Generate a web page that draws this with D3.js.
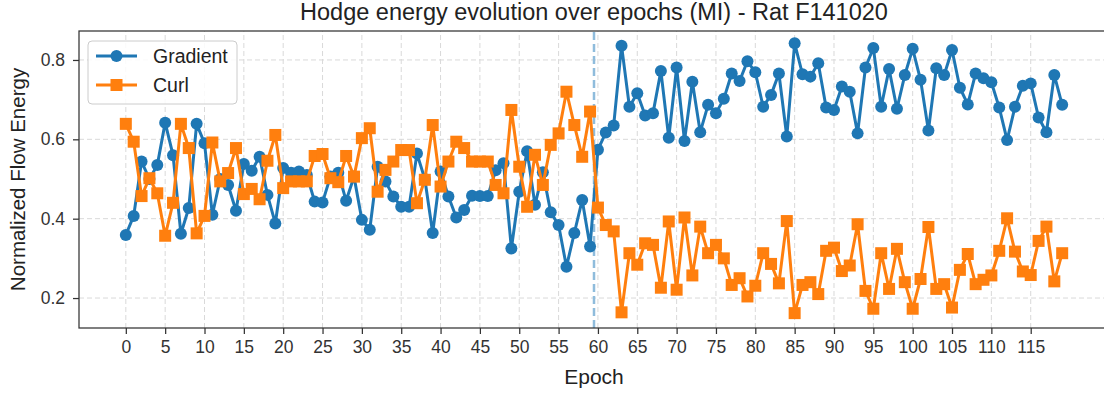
<!DOCTYPE html>
<html>
<head>
<meta charset="utf-8">
<script src="https://cdn.jsdelivr.net/npm/d3@7"></script>
<style>
  body { margin: 0; background: #fff; }
  text { font-family: "Liberation Sans", Arial, sans-serif; }
</style>
</head>
<body>
<main></main>
<script>
const w = 1104;
const h = 394;
const margin = { left: 79, right: -5, top: 31, bottom: 66 };

const epochs = d3.range(0, 120);

const gradient = [
  0.359, 0.407, 0.544, 0.50, 0.535, 0.642, 0.56, 0.362, 0.427, 0.639,
  0.59, 0.41, 0.50, 0.485, 0.42, 0.538, 0.521, 0.556, 0.46, 0.388,
  0.528, 0.516, 0.519, 0.51, 0.443, 0.441, 0.506, 0.516, 0.445, 0.506,
  0.397, 0.372, 0.531, 0.494, 0.456, 0.43, 0.43, 0.564, 0.50, 0.364,
  0.519, 0.456, 0.403, 0.422, 0.458, 0.457, 0.457, 0.522, 0.54, 0.325,
  0.468, 0.57, 0.435, 0.517, 0.416, 0.384, 0.279, 0.364, 0.447, 0.33,
  0.574, 0.617, 0.635, 0.836, 0.682, 0.716, 0.66, 0.666, 0.772, 0.604,
  0.781, 0.596, 0.745, 0.618, 0.687, 0.666, 0.702, 0.766, 0.747, 0.797,
  0.769, 0.682, 0.712, 0.766, 0.607, 0.842, 0.764, 0.758, 0.792, 0.68,
  0.674, 0.733, 0.72, 0.615, 0.781, 0.83, 0.682, 0.777, 0.677, 0.762,
  0.828, 0.75, 0.622, 0.779, 0.762, 0.825, 0.73, 0.688, 0.766, 0.754,
  0.744, 0.68, 0.598, 0.682, 0.735, 0.741, 0.655, 0.618, 0.762, 0.687
];

const curl = [
  0.639, 0.594, 0.457, 0.502, 0.464, 0.357, 0.44, 0.639, 0.578, 0.363,
  0.407, 0.592, 0.494, 0.515, 0.578, 0.462, 0.475, 0.449, 0.546, 0.611,
  0.477, 0.494, 0.494, 0.494, 0.558, 0.563, 0.502, 0.492, 0.558, 0.506,
  0.603, 0.628, 0.468, 0.523, 0.544, 0.573, 0.573, 0.439, 0.498, 0.636,
  0.481, 0.544, 0.594, 0.578, 0.544, 0.544, 0.544, 0.485, 0.464, 0.674,
  0.531, 0.43, 0.561, 0.485, 0.586, 0.615, 0.72, 0.636, 0.556, 0.67,
  0.428, 0.384, 0.368, 0.164, 0.313, 0.284, 0.338, 0.334, 0.226, 0.393,
  0.221, 0.403, 0.257, 0.38, 0.313, 0.334, 0.30, 0.233, 0.25, 0.204,
  0.231, 0.313, 0.286, 0.237, 0.394, 0.162, 0.233, 0.24, 0.21, 0.319,
  0.327, 0.268, 0.282, 0.386, 0.218, 0.173, 0.313, 0.223, 0.324, 0.24,
  0.173, 0.248, 0.379, 0.223, 0.235, 0.176, 0.271, 0.311, 0.235, 0.246,
  0.257, 0.319, 0.401, 0.317, 0.267, 0.258, 0.344, 0.38, 0.242, 0.313
];

const xTicks = d3.range(0, 120, 5);
const yTicks = [0.2, 0.4, 0.6, 0.8];
const splitEpoch = 59.5;

const series = [
  { name: "Gradient", values: gradient, color: "#1f77b4", marker: "circle" },
  { name: "Curl", values: curl, color: "#ff7f0e", marker: "square" }
];

const svg = d3
  .select("main")
  .append("svg")
  .attr("width", w)
  .attr("height", h)
  .style("display", "block");

const x = d3
  .scaleLinear()
  .domain([-5.95, 124.95])
  .range([margin.left, w - margin.right]);

const y = d3
  .scaleLinear()
  .domain([0.1245, 0.873])
  .range([h - margin.bottom, margin.top]);

// grid
const grid = svg.append("g").attr("class", "grid");
grid
  .selectAll("line.gx")
  .data(xTicks)
  .join("line")
  .attr("x1", (d) => x(d))
  .attr("x2", (d) => x(d))
  .attr("y1", y.range()[0])
  .attr("y2", y.range()[1])
  .attr("stroke", "#d9d9d9")
  .attr("stroke-width", 1)
  .attr("stroke-dasharray", "5,3");
grid
  .selectAll("line.gy")
  .data(yTicks)
  .join("line")
  .attr("x1", x.range()[0])
  .attr("x2", x.range()[1])
  .attr("y1", (d) => y(d))
  .attr("y2", (d) => y(d))
  .attr("stroke", "#d9d9d9")
  .attr("stroke-width", 1)
  .attr("stroke-dasharray", "5,3");

// split marker
svg
  .append("line")
  .attr("x1", x(splitEpoch))
  .attr("x2", x(splitEpoch))
  .attr("y1", y.range()[0])
  .attr("y2", y.range()[1])
  .attr("stroke", "#8fbcdc")
  .attr("stroke-width", 2.5)
  .attr("stroke-dasharray", "8,4");

const line = d3
  .line()
  .x((d, i) => x(epochs[i]))
  .y((d) => y(d));

const plot = svg.append("g");
series.forEach((s) => {
  const g = plot.append("g");
  g.append("path")
    .datum(s.values)
    .attr("d", line)
    .attr("fill", "none")
    .attr("stroke", s.color)
    .attr("stroke-width", 3)
    .attr("stroke-linejoin", "round");
  if (s.marker === "circle") {
    g.selectAll("circle")
      .data(s.values)
      .join("circle")
      .attr("cx", (d, i) => x(epochs[i]))
      .attr("cy", (d) => y(d))
      .attr("r", 6)
      .attr("fill", s.color);
  } else {
    g.selectAll("rect")
      .data(s.values)
      .join("rect")
      .attr("x", (d, i) => x(epochs[i]) - 6)
      .attr("y", (d) => y(d) - 6)
      .attr("width", 12)
      .attr("height", 12)
      .attr("fill", s.color);
  }
});

// frame
svg
  .append("rect")
  .attr("x", x.range()[0])
  .attr("y", y.range()[1])
  .attr("width", x.range()[1] - x.range()[0])
  .attr("height", y.range()[0] - y.range()[1])
  .attr("fill", "none")
  .attr("stroke", "#333")
  .attr("stroke-width", 1.25);

const xAxis = svg
  .append("g")
  .attr("transform", `translate(0, ${y.range()[0]})`)
  .call(d3.axisBottom(x).tickValues(xTicks).tickSize(6).tickSizeOuter(0).tickPadding(7));

const yAxis = svg
  .append("g")
  .attr("transform", `translate(${x.range()[0]}, 0)`)
  .call(
    d3.axisLeft(y).tickValues(yTicks).tickSize(6).tickSizeOuter(0).tickPadding(8)
      .tickFormat(d3.format(".1f"))
  );

[xAxis, yAxis].forEach((a) => {
  a.select(".domain").remove();
  a.selectAll(".tick line").attr("stroke", "#333").attr("stroke-width", 1.25);
  a.selectAll(".tick text")
    .attr("fill", "#333")
    .style("font-size", "17.5px")
    .style("font-family", "'Liberation Sans', Arial, sans-serif");
});

svg
  .append("text")
  .attr("x", (x.range()[0] + x.range()[1]) / 2)
  .attr("y", 20)
  .attr("text-anchor", "middle")
  .attr("fill", "#222")
  .style("font-size", "23.5px")
  .text("Hodge energy evolution over epochs (MI) - Rat F141020");

svg
  .append("text")
  .attr("x", (x.range()[0] + x.range()[1]) / 2)
  .attr("y", 384)
  .attr("text-anchor", "middle")
  .attr("fill", "#222")
  .style("font-size", "21px")
  .text("Epoch");

svg
  .append("text")
  .attr("transform", `translate(25, ${(y.range()[0] + y.range()[1]) / 2}) rotate(-90)`)
  .attr("text-anchor", "middle")
  .attr("fill", "#222")
  .style("font-size", "20.5px")
  .text("Normalized Flow Energy");

// legend
const legend = svg.append("g").attr("transform", "translate(88, 41)");
legend
  .append("rect")
  .attr("width", 149)
  .attr("height", 63)
  .attr("rx", 4)
  .attr("fill", "rgba(255,255,255,0.85)")
  .attr("stroke", "#ccc");

const items = legend
  .selectAll("g.item")
  .data(series)
  .join("g")
  .attr("transform", (d, i) => `translate(0, ${15 + i * 29})`);

items
  .append("line")
  .attr("x1", 8)
  .attr("x2", 49)
  .attr("stroke", (d) => d.color)
  .attr("stroke-width", 3);

items.each(function (d) {
  const g = d3.select(this);
  if (d.marker === "circle") {
    g.append("circle").attr("cx", 28.5).attr("r", 6).attr("fill", d.color);
  } else {
    g.append("rect")
      .attr("x", 22.5)
      .attr("y", -6)
      .attr("width", 12)
      .attr("height", 12)
      .attr("fill", d.color);
  }
});

items
  .append("text")
  .attr("x", 65)
  .attr("dy", "0.35em")
  .attr("fill", "#222")
  .style("font-size", "19.5px")
  .text((d) => d.name);
</script>
</body>
</html>
